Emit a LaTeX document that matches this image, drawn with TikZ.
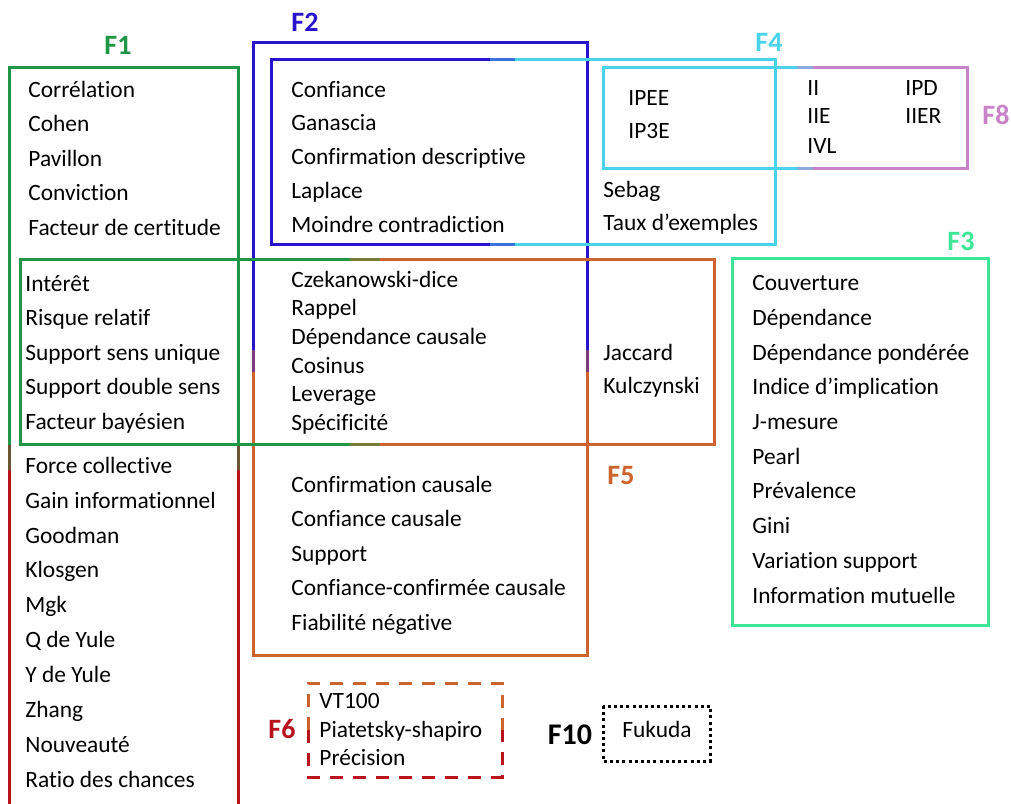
\documentclass[tikz,border=0pt]{standalone}
\usepackage{fontspec}
\setmainfont[Ligatures=NoCommon]{Carlito}
\usetikzlibrary{positioning}

\definecolor{fgreen}{RGB}{30,150,70}
\definecolor{fred}{RGB}{185,20,30}
\definecolor{fblue}{RGB}{40,20,205}
\definecolor{forange}{RGB}{205,100,45}
\definecolor{fcyan}{RGB}{75,210,235}
\definecolor{fpink}{RGB}{200,130,200}
\definecolor{fmint}{RGB}{60,230,150}

\begin{document}
\begin{tikzpicture}[
    x=0.5pt, y=-0.5pt,
    % --- STYLES ---
    item/.style={
            anchor=base west,
            inner sep=0pt,
            font=\fontsize{11.7}{14}\selectfont
        },
    famlabel/.style={
            inner sep=0pt,
            font=\fontsize{14}{16}\selectfont\bfseries
        },
    famline/.style={
            line width=1.5pt,
            line join=miter
        }
    ]
    \useasboundingbox (0,0) rectangle (1011,803);

    % --- BOXES ---
    % left column (green on top, red below)
    \draw[famline, fgreen] (9,445) -- (9,67) -- (238,67) -- (238,445);
    \draw[famline, fgreen!50!fred] (9,445) -- (9,470) (238,445) -- (238,470);
    \draw[famline, fred] (9,470) -- (9,815) (238,470) -- (238,815);

    % F2 / F5 tall box
    \draw[famline, fblue] (253,350) -- (253,42) -- (587,42) -- (587,350);
    \draw[famline, fblue!50!forange] (253,350) -- (253,372) (587,350) -- (587,372);
    \draw[famline, forange] (253,372) -- (253,655) -- (587,655) -- (587,372);

    % wide box (green to orange)
    \draw[famline, fgreen] (350,259) -- (20,259) -- (20,444) -- (350,444);
    \draw[famline, fgreen!50!forange] (350,259) -- (380,259) (350,444) -- (380,444);
    \draw[famline, forange] (380,259) -- (714,259) -- (714,444) -- (380,444);

    % F2 inner / F4 box (blue to cyan)
    \draw[famline, fblue] (490,59) -- (271,59) -- (271,244) -- (490,244);
    \draw[famline, fblue!50!fcyan] (490,59) -- (515,59) (490,244) -- (515,244);
    \draw[famline, fcyan] (515,59) -- (775,59) -- (775,244) -- (515,244);

    % F4 / F8 box (cyan to pink)
    \draw[famline, fcyan] (797,67) -- (603,67) -- (603,168) -- (797,168);
    \draw[famline, fcyan!50!fpink] (797,67) -- (813,67) (797,168) -- (813,168);
    \draw[famline, fpink] (813,67) -- (967,67) -- (967,168) -- (813,168);

    % F3
    \draw[famline, fmint] (732,258) rectangle (988,625);

    % F6 (dashed)
    \draw[famline, forange, dash pattern=on 6.5pt off 5pt]
        (308,730) -- (308,683) -- (502,683) -- (502,730);
    \draw[famline, fred, dash pattern=on 6.5pt off 5pt]
        (308,730) -- (308,777) -- (502,777) -- (502,730);

    % F10 (dotted)
    \draw[famline, black, dash pattern=on 1.5pt off 1.6pt] (603,706) rectangle (710,761);

    % --- LABELS ---
    \node[famlabel, text=fgreen] (lblF1) at (118,45) {F1};
    \node[famlabel, text=fblue] (lblF2) at (305,22) {F2};
    \node[famlabel, text=fcyan] (lblF4) at (769,42) {F4};
    \node[famlabel, text=fpink] (lblF8) at (996,115) {F8};
    \node[famlabel, text=fmint] (lblF3) at (961,241) {F3};
    \node[famlabel, text=forange] (lblF5) at (621,476) {F5};
    \node[famlabel, text=fred] (lblF6) at (282,729) {F6};
    \node[famlabel, text=black, font=\fontsize{15}{17}\selectfont\bfseries] (lblF10) at (570,735) {F10};

    % --- LEFT COLUMN ---
    \node[item] (correlation) at (28,97) {Corrélation};
    \node[item] (cohen) at (28,131.5) {Cohen};
    \node[item] (pavillon) at (28,166) {Pavillon};
    \node[item] (conviction) at (28,200.5) {Conviction};
    \node[item] (certitude) at (28,235) {Facteur de certitude};

    \node[item] (interet) at (25,291) {Intérêt};
    \node[item] (risque) at (25,325.5) {Risque relatif};
    \node[item] (supunique) at (25,360) {Support sens unique};
    \node[item] (supdouble) at (25,394.5) {Support double sens};
    \node[item] (bayesien) at (25,429) {Facteur bayésien};

    \node[item] (force) at (25,473) {Force collective};
    \node[item] (gain) at (25,508) {Gain informationnel};
    \node[item] (goodman) at (25,543) {Goodman};
    \node[item] (klosgen) at (25,577) {Klosgen};
    \node[item] (mgk) at (25,612) {Mgk};
    \node[item] (qyule) at (25,647) {Q de Yule};
    \node[item] (yyule) at (25,682) {Y de Yule};
    \node[item] (zhang) at (25,717) {Zhang};
    \node[item] (nouveaute) at (25,752) {Nouveauté};
    \node[item] (ratio) at (25,787) {Ratio des chances};

    % --- MIDDLE COLUMN ---
    \node[item] (confiance) at (291,97) {Confiance};
    \node[item] (ganascia) at (291,130.5) {Ganascia};
    \node[item] (confdesc) at (291,164.5) {Confirmation descriptive};
    \node[item] (laplace) at (291,198) {Laplace};
    \node[item] (moindre) at (291,232) {Moindre contradiction};

    \node[item] (czek) at (291,287) {Czekanowski-dice};
    \node[item] (rappel) at (291,315.7) {Rappel};
    \node[item] (depcausale) at (291,344.4) {Dépendance causale};
    \node[item] (cosinus) at (291,373) {Cosinus};
    \node[item] (leverage) at (291,401.8) {Leverage};
    \node[item] (specificite) at (291,430.5) {Spécificité};

    \node[item] (confcausale) at (291,492) {Confirmation causale};
    \node[item] (confiancecaus) at (291,526.5) {Confiance causale};
    \node[item] (support) at (291,561) {Support};
    \node[item] (confconf) at (291,595.5) {Confiance-confirmée causale};
    \node[item] (fiabilite) at (291,630) {Fiabilité négative};

    % --- RIGHT PART ---
    \node[item] (ipee) at (628,105) {IPEE};
    \node[item] (ip3e) at (628,138) {IP3E};
    \node[item] (sebag) at (603,197) {Sebag};
    \node[item] (taux) at (603,230) {Taux d’exemples};
    \node[item] (jaccard) at (603,360) {Jaccard};
    \node[item] (kulczynski) at (603,393) {Kulczynski};

    \node[item] (ii) at (807,95) {II};
    \node[item] (iie) at (807,123.5) {IIE};
    \node[item] (ivl) at (807,153) {IVL};
    \node[item] (ipd) at (905,95) {IPD};
    \node[item] (iier) at (905,123.5) {IIER};

    % --- F3 ---
    \node[item] (couverture) at (752,290.7) {Couverture};
    \node[item] (dependance) at (752,325.4) {Dépendance};
    \node[item] (deppond) at (752,360.1) {Dépendance pondérée};
    \node[item] (implication) at (752,394.8) {Indice d’implication};
    \node[item] (jmesure) at (752,429.5) {J-mesure};
    \node[item] (pearl) at (752,464.2) {Pearl};
    \node[item] (prevalence) at (752,498.9) {Prévalence};
    \node[item] (gini) at (752,533.6) {Gini};
    \node[item] (variation) at (752,568.3) {Variation support};
    \node[item] (information) at (752,603) {Information mutuelle};

    % --- F6 / F10 ---
    \node[item] (vt100) at (319,708) {VT100};
    \node[item] (piatetsky) at (319,737) {Piatetsky-shapiro};
    \node[item] (precision) at (319,765) {Précision};
    \node[item] (fukuda) at (622,737) {Fukuda};

\end{tikzpicture}
\end{document}
